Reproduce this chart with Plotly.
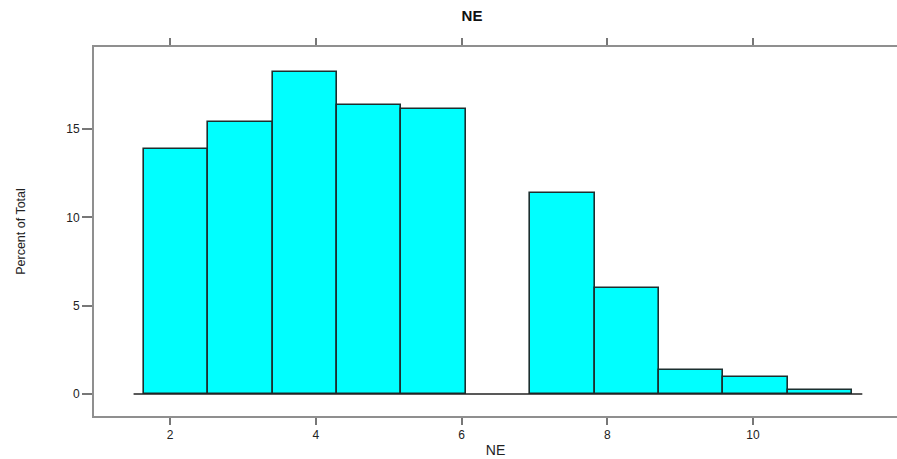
import plotly.graph_objects as go

# Histogram of NE: observed values and percent of total for each value
ne_values = [2, 3, 4, 5, 6, 7, 8, 9, 10, 11]
percent_of_total = [13.87, 15.39, 18.22, 16.36, 16.13, 11.38, 6.0, 1.36, 0.96, 0.23]

# lattice-style breaks: data range extended by 4%, split into 11 equal bins
n_bins = 11
lo, hi = min(ne_values), max(ne_values)
pad = 0.04 * (hi - lo)
b_lo, b_hi = lo - pad, hi + pad
bin_width = (b_hi - b_lo) / n_bins
bin_left = [b_lo + int((v - b_lo) // bin_width) * bin_width for v in ne_values]

x_ticks = [2, 4, 6, 8, 10, 12]
y_ticks = [0, 5, 10, 15]

fig = go.Figure()
fig.add_trace(go.Bar(
    x=bin_left,
    y=percent_of_total,
    width=[bin_width] * len(bin_left),
    offset=0,
    marker=dict(color="#00FFFF", line=dict(color="#1c2f2f", width=1.6)),
    hoverinfo="x+y",
    showlegend=False,
))

# baseline under the bars
fig.add_shape(type="line", xref="x", yref="y",
              x0=b_lo - 0.14, x1=b_hi + 0.14, y0=0, y1=0,
              line=dict(color="#222222", width=1.3), layer="above")

axis_font = dict(family="Liberation Sans, Arial, sans-serif", size=12, color="#222222")

fig.update_layout(
    width=897, height=459,
    margin=dict(l=94, r=0, t=47, b=43),
    plot_bgcolor="white", paper_bgcolor="white",
    bargap=0,
    title=dict(text="<b>NE</b>", x=472 / 897, xanchor="center", y=1 - 16 / 459, yanchor="middle",
               font=dict(family="Liberation Sans, Arial, sans-serif", size=15, color="#111111")),
    xaxis=dict(
        range=[0.957, 11.976], tickvals=x_ticks, ticktext=[str(t) for t in x_ticks],
        showgrid=False, zeroline=False,
        showline=True, linecolor="#8f8f8f", linewidth=2, mirror="ticks",
        ticks="outside", ticklen=7, tickcolor="#777777", tickwidth=1.5,
        tickfont=axis_font,
        title=dict(text="NE", font=dict(family="Liberation Sans, Arial, sans-serif", size=14, color="#222222"),
                   standoff=4),
    ),
    yaxis=dict(
        range=[-1.245, 19.64], tickvals=y_ticks, ticktext=[str(t) for t in y_ticks],
        showgrid=False, zeroline=False,
        showline=True, linecolor="#8f8f8f", linewidth=2, mirror=False,
        ticks="outside", ticklen=10, tickcolor="#777777", tickwidth=1.5,
        tickfont=axis_font,
        title=dict(text="Percent of Total",
                   font=dict(family="Liberation Sans Narrow, Liberation Sans, Arial, sans-serif", size=12.5, color="#222222"),
                   standoff=38),
    ),
)

fig.write_html("out.html")
